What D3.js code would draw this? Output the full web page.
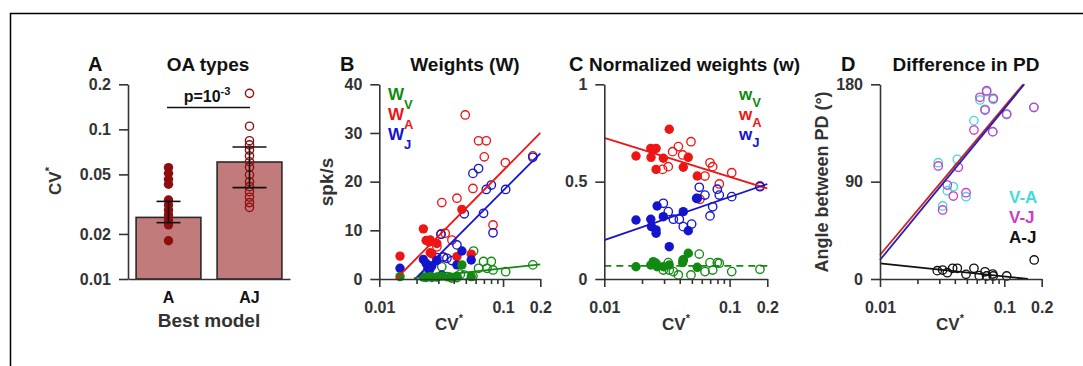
<!DOCTYPE html>
<html><head><meta charset="utf-8">
<script src="https://cdn.jsdelivr.net/npm/d3@7"></script>
<style>body{margin:0;background:#fff}svg{display:block}</style>
</head><body>
<script>
// ---------- DATA ----------
// Panel A
const aCats = ["A", "AJ"];
const aBarMean = [0.0258, 0.0605];
const aErrLow = [0.0238, 0.0408];
const aErrHigh = [0.0330, 0.0762];
const aDotsA = [0.0555, 0.0509, 0.0464, 0.0430, 0.0337, 0.0312, 0.0289, 0.0268, 0.0248, 0.0230, 0.0180];
const aDotsAJ = [0.174, 0.105, 0.084, 0.0787, 0.0728, 0.0664, 0.0608, 0.0558, 0.0496, 0.0447, 0.0414, 0.0383, 0.0352, 0.0324, 0.0301];
const aYTicks = [0.01, 0.02, 0.05, 0.1, 0.2];
const aYTickLabels = ["0.01", "0.02", "0.05", "0.1", "0.2"];

// shared log x ticks (B, C, D)
const xTicks = [0.01, 0.02, 0.03, 0.04, 0.05, 0.06, 0.07, 0.08, 0.09, 0.1, 0.2];
const xTickLabels = ["0.01", "", "", "", "", "", "", "", "", "0.1", "0.2"];

// Panel B  [CV*, spk/s]
const bRedFilled = [[0.0147,4.7],[0.0227,10.3],[0.0239,7.9],[0.0254,7.6],[0.0258,8.0],[0.0258,5.4],[0.0266,5.2],[0.0292,7.3],[0.0424,4.6],[0.0465,14.3],[0.0553,5.1]];
const bRedOpen = [[0.0292,6.6],[0.0315,9.2],[0.0320,15.7],[0.0330,4.5],[0.0341,9.4],[0.0386,8.0],[0.0424,16.6],[0.0495,33.7],[0.0571,18.6],[0.0634,28.4],[0.0705,25.1],[0.0732,28.4],[0.0830,11.1],[0.1044,23.9],[0.174,25.3]];
const bBlueFilled = [[0.0147,2.2],[0.0227,4.0],[0.0239,3.2],[0.0247,2.2],[0.0254,1.8],[0.0266,2.7],[0.0292,3.8],[0.0320,0.8],[0.0424,2.9],[0.0465,5.75],[0.0553,3.9]];
const bBlueOpen = [[0.0292,4.4],[0.0315,9.2],[0.0330,4.5],[0.0352,4.25],[0.0386,3.8],[0.0424,7.0],[0.0486,13.4],[0.0571,21.7],[0.0634,22.7],[0.0696,13.5],[0.0732,18.4],[0.0804,19.3],[0.0830,9.5],[0.105,18.4],[0.174,25.0]];
const bGreenFilled = [[0.0147,0.5],[0.0227,0.4],[0.0239,0.3],[0.0258,0.5],[0.0266,0.3],[0.0292,0.4],[0.0320,0.6],[0.0374,0.4],[0.0424,0.6],[0.0465,2.9],[0.0553,0.5]];
const bGreenOpen = [[0.0320,2.5],[0.0352,0.5],[0.0386,0.2],[0.0424,0.3],[0.0452,1.0],[0.0486,0.8],[0.0571,0.6],[0.0578,5.75],[0.0634,2.2],[0.0696,3.6],[0.0742,2.2],[0.0804,3.6],[0.0830,1.85],[0.105,1.5],[0.174,2.9]];
const bFitRed = [[0.01366,0],[0.2,30]];
const bFitBlue = [[0.0195,0],[0.2,25.8]];
const bFitGreen = [[0.019,0.2],[0.2,3.0]];
const bYTicks = [0, 10, 20, 30, 40];

// Panel C  [CV*, normalized weight]
const cRedFilled = [[0.0179,0.632],[0.0235,0.671],[0.0246,0.663],[0.0259,0.671],[0.0236,0.625],[0.0296,0.620],[0.0259,0.563],[0.0330,0.769],[0.0427,0.574],[0.0468,0.625],[0.0552,0.529]];
const cRedOpen = [[0.0292,0.563],[0.0324,0.577],[0.0351,0.654],[0.0390,0.680],[0.0422,0.637],[0.0492,0.705],[0.0698,0.597],[0.0733,0.577],[0.0636,0.529],[0.0828,0.488],[0.104,0.546],[0.058,0.409],[0.1748,0.478]];
const cBlueFilled = [[0.0179,0.303],[0.0235,0.307],[0.0238,0.269],[0.0259,0.252],[0.0259,0.235],[0.0264,0.375],[0.0296,0.320],[0.0330,0.166],[0.0427,0.346],[0.0468,0.248],[0.0552,0.414]];
const cBlueOpen = [[0.0296,0.389],[0.0324,0.346],[0.0356,0.307],[0.0397,0.307],[0.0427,0.269],[0.0498,0.282],[0.0546,0.414],[0.0573,0.471],[0.0636,0.431],[0.0698,0.324],[0.0733,0.371],[0.0798,0.461],[0.0828,0.431],[0.104,0.423],[0.1748,0.474]];
const cGreenFilled = [[0.0179,0.063],[0.0235,0.072],[0.0246,0.089],[0.0259,0.081],[0.0264,0.063],[0.0296,0.063],[0.0330,0.072],[0.0427,0.098],[0.0468,0.132],[0.0552,0.060],[0.0422,0.084]];
const cGreenOpen = [[0.0296,0.046],[0.0324,0.084],[0.0356,0.038],[0.0390,0.021],[0.0427,0.098],[0.0492,0.021],[0.0573,0.128],[0.0636,0.038],[0.0698,0.084],[0.0733,0.046],[0.0798,0.084],[0.0828,0.081],[0.104,0.038],[0.1748,0.050],[0.0330,0.046]];
const cFitRed = [[0.01,0.725],[0.2,0.465]];
const cFitBlue = [[0.01,0.200],[0.2,0.488]];
const cFitGreen = [[0.01,0.067],[0.2,0.067]];
const cYTicks = [0, 0.5, 1];

// Panel D  [CV*, angle deg]
const dVA = [[0.0294,107.5],[0.0419,110.7],[0.0389,85.3],[0.0348,81.6],[0.0319,67.5],[0.0492,76.1],[0.0570,146.4],[0.0637,165.5],[0.0700,156.9],[0.0721,173.2],[0.0815,166.0],[0.1045,152.0],[0.0807,136.0],[0.173,158.5]];
const dVJ = [[0.0294,104.5],[0.0427,103.3],[0.0348,86.9],[0.0389,76.7],[0.0319,63.8],[0.0492,79.8],[0.0570,137.7],[0.0637,168.0],[0.0721,174.1],[0.0700,156.2],[0.0815,167.1],[0.1045,152.5],[0.0807,136.2],[0.173,158.7]];
const dAJ = [[0.0289,7.7],[0.0319,8.3],[0.0348,5.8],[0.0384,9.9],[0.0419,9.9],[0.0492,4.3],[0.0570,9.9],[0.0629,3.1],[0.0700,6.7],[0.0721,2.8],[0.0807,4.6],[0.0815,2.8],[0.1045,2.8],[0.174,17.6]];
const dFitRed = [[0.01,22.2],[0.142,180]];
const dFitBlue = [[0.01,17.6],[0.145,180]];
const dFitBlack = [[0.01,14.5],[0.155,0]];
const dYTicks = [0, 90, 180];

// ---------- DRAWING ----------
const FONT = "'Liberation Sans', Arial, Helvetica, sans-serif";
const AX = "#333";
const GREEN = "#128a12", RED = "#ee1515", BLUE = "#1414cc";
const CYAN = "#3fdcdc", MAG = "#cc3ccc", DARKRED = "#8e0d0d";

const svg = d3.select("body").append("svg").attr("width", 1083).attr("height", 366)
  .style("font-family", FONT).style("font-weight", "bold");

svg.append("path").attr("d", "M10.5,366V13.5H1083").attr("fill", "none")
  .attr("stroke", "#000").attr("stroke-width", 1.5);

function styleAxis(g) {
  g.select(".domain").attr("stroke", AX).attr("stroke-width", 1.6);
  g.selectAll(".tick line").attr("stroke", AX).attr("stroke-width", 1.6);
  g.selectAll(".tick text").attr("fill", AX).style("font-size", "16px")
    .style("font-family", FONT).style("font-weight", "bold");
}

function text(x, y, str, size, color, anchor) {
  return svg.append("text").attr("x", x).attr("y", y).text(str)
    .style("font-size", size + "px").attr("fill", color || "#111")
    .attr("text-anchor", anchor || "start");
}

function cvLabel(cx, y) {
  const t = svg.append("text").attr("x", cx).attr("y", y).attr("text-anchor", "middle")
    .style("font-size", "17px").attr("fill", AX);
  t.append("tspan").text("CV");
  t.append("tspan").attr("dy", -8).style("font-size", "11px").text("*");
}

function logXAxis(x, y0) {
  const g = svg.append("g").attr("transform", `translate(0,${y0})`)
    .call(d3.axisBottom(x).tickValues(xTicks).tickSize(8).tickSizeOuter(0)
      .tickFormat((d, i) => xTickLabels[i]));
  g.selectAll(".tick").each(function (d, i) {
    if (xTickLabels[i] === "") d3.select(this).select("line").attr("y2", 5);
  });
  styleAxis(g);
  g.selectAll(".tick text").attr("y", 34).attr("dy", 0);
  return g;
}

function yAxis(y, x0, ticks, fmt) {
  const g = svg.append("g").attr("transform", `translate(${x0},0)`)
    .call(d3.axisLeft(y).tickValues(ticks).tickSize(9).tickPadding(8).tickSizeOuter(0).tickFormat(fmt));
  styleAxis(g);
  return g;
}

function dots(x, y, data, color, filled) {
  svg.append("g").selectAll("circle").data(data).join("circle")
    .attr("cx", d => x(d[0])).attr("cy", d => y(d[1]))
    .attr("r", filled ? 4.7 : 4.2)
    .attr("fill", filled ? color : "none")
    .attr("stroke", color).attr("stroke-width", filled ? 0 : 1.35);
}

function fit(x, y, data, color, dash) {
  const p = svg.append("path").datum(data)
    .attr("d", d3.line().x(d => x(d[0])).y(d => y(d[1])))
    .attr("fill", "none").attr("stroke", color).attr("stroke-width", 1.8);
  if (dash) p.attr("stroke-dasharray", dash);
}

// ===== Panel A =====
{
  const x = d3.scaleBand().domain(aCats).range([128, 290]).paddingInner(0.2).paddingOuter(0.1);
  const y = d3.scaleLog().domain([0.01, 0.2]).range([279, 84.3]);
  const bw = x.bandwidth();
  svg.append("g").selectAll("rect").data(aCats).join("rect")
    .attr("x", d => x(d)).attr("width", bw)
    .attr("y", (d, i) => y(aBarMean[i])).attr("height", (d, i) => 279 - y(aBarMean[i]))
    .attr("fill", "#c27b7b").attr("stroke", "#2a2a2a").attr("stroke-width", 1.6);

  svg.append("g").selectAll("circle").data(aDotsA).join("circle")
    .attr("cx", x("A") + bw / 2).attr("cy", d => y(d)).attr("r", 4.7)
    .attr("fill", DARKRED);
  svg.append("g").selectAll("circle").data(aDotsAJ).join("circle")
    .attr("cx", x("AJ") + bw / 2).attr("cy", d => y(d)).attr("r", 4.1)
    .attr("fill", "none").attr("stroke", DARKRED).attr("stroke-width", 1.4);

  const caps = [12, 17];
  aCats.forEach((c, i) => {
    const cx = x(c) + bw / 2;
    const g = svg.append("g").attr("stroke", "#111").attr("stroke-width", 1.6);
    g.append("line").attr("x1", cx).attr("x2", cx).attr("y1", y(aErrHigh[i])).attr("y2", y(aErrLow[i]));
    g.append("line").attr("x1", cx - caps[i]).attr("x2", cx + caps[i]).attr("y1", y(aErrHigh[i])).attr("y2", y(aErrHigh[i]));
    g.append("line").attr("x1", cx - caps[i]).attr("x2", cx + caps[i]).attr("y1", y(aErrLow[i])).attr("y2", y(aErrLow[i]));
  });

  yAxis(y, 128, aYTicks, (d, i) => aYTickLabels[i]);
  const gx = svg.append("g").attr("transform", "translate(0,279)")
    .call(d3.axisBottom(x).tickSize(0).tickSizeOuter(0));
  styleAxis(gx);
  gx.selectAll(".tick text").attr("y", 24).attr("dy", 0).attr("fill", "#111");

  // significance
  svg.append("line").attr("x1", 167).attr("x2", 250).attr("y1", 107.5).attr("y2", 107.5)
    .attr("stroke", "#111").attr("stroke-width", 1.6);
  const p = svg.append("text").attr("x", 207).attr("y", 102).attr("text-anchor", "middle")
    .style("font-size", "16px").attr("fill", "#111");
  p.append("tspan").text("p=10");
  p.append("tspan").attr("dy", -7).style("font-size", "11px").text("-3");

  text(88, 71, "A", 20, "#111");
  text(208, 71, "OA types", 19, "#111", "middle");
  text(209, 327, "Best model", 19, AX, "middle");
  const yl = svg.append("text").attr("transform", "translate(61,181) rotate(-90)")
    .attr("text-anchor", "middle").style("font-size", "17px").attr("fill", AX);
  yl.append("tspan").text("CV");
  yl.append("tspan").attr("dy", -8).style("font-size", "11px").text("*");
}

// ===== Panel B =====
{
  const x = d3.scaleLog().domain([0.01, 0.2]).range([379.3, 540.3]);
  const y = d3.scaleLinear().domain([0, 40]).range([279, 84.3]);
  dots(x, y, bRedOpen, RED, false);
  dots(x, y, bBlueOpen, BLUE, false);
  dots(x, y, bGreenOpen, GREEN, false);
  dots(x, y, bRedFilled, RED, true);
  dots(x, y, bBlueFilled, BLUE, true);
  dots(x, y, bGreenFilled, GREEN, true);
  fit(x, y, bFitRed, RED);
  fit(x, y, bFitBlue, BLUE);
  fit(x, y, bFitGreen, GREEN);
  logXAxis(x, 279);
  yAxis(y, 379.3, bYTicks, d => d);
  text(340, 71, "B", 20, "#111");
  text(465, 71, "Weights (W)", 19, "#111", "middle");
  cvLabel(449, 330);
  svg.append("text").attr("transform", "translate(333,182) rotate(-90)").attr("text-anchor", "middle")
    .style("font-size", "19px").attr("fill", AX).text("spk/s");
  [["V", GREEN, 99.5], ["A", RED, 120], ["J", BLUE, 140]].forEach(([s, c, yb]) => {
    const t = svg.append("text").attr("x", 388).attr("y", yb).attr("fill", c).style("font-size", "17px");
    t.append("tspan").text("W");
    t.append("tspan").attr("dy", 9).style("font-size", "13px").text(s);
  });
}

// ===== Panel C =====
{
  const x = d3.scaleLog().domain([0.01, 0.2]).range([604.3, 767.3]);
  const y = d3.scaleLinear().domain([0, 1]).range([279, 84.3]);
  dots(x, y, cRedOpen, RED, false);
  dots(x, y, cBlueOpen, BLUE, false);
  dots(x, y, cGreenOpen, GREEN, false);
  dots(x, y, cRedFilled, RED, true);
  dots(x, y, cBlueFilled, BLUE, true);
  dots(x, y, cGreenFilled, GREEN, true);
  fit(x, y, cFitRed, RED);
  fit(x, y, cFitBlue, BLUE);
  fit(x, y, cFitGreen, GREEN, "7,5");
  logXAxis(x, 279);
  yAxis(y, 604.3, cYTicks, d => d);
  text(569, 71, "C", 20, "#111");
  text(589, 71, "Normalized weights (w)", 19, "#111");
  cvLabel(676, 330);
  [["V", GREEN, 100], ["A", RED, 120], ["J", BLUE, 140]].forEach(([s, c, yb]) => {
    const t = svg.append("text").attr("x", 739).attr("y", yb).attr("fill", c).style("font-size", "17px");
    t.append("tspan").text("w");
    t.append("tspan").attr("dy", 7).style("font-size", "13px").text(s);
  });
}

// ===== Panel D =====
{
  const x = d3.scaleLog().domain([0.01, 0.2]).range([880, 1041.7]);
  const y = d3.scaleLinear().domain([0, 180]).range([279, 84.3]);
  dots(x, y, dVA, CYAN, false);
  dots(x, y, dVJ, MAG, false);
  dots(x, y, dAJ, "#111", false);
  fit(x, y, dFitRed, "#cc2222");
  fit(x, y, dFitBlue, "#2222bb");
  fit(x, y, dFitBlack, "#111");
  logXAxis(x, 279);
  yAxis(y, 880, dYTicks, d => d);
  text(841, 71, "D", 20, "#111");
  text(966, 71, "Difference in PD", 19, "#111", "middle");
  cvLabel(950, 330);
  svg.append("text").attr("transform", "translate(828,182) rotate(-90)").attr("text-anchor", "middle")
    .style("font-size", "18px").attr("fill", AX).text("Angle between PD (°)");
  text(1009, 203, "V-A", 17, CYAN);
  text(1009, 222.5, "V-J", 17, MAG);
  text(1009, 243, "A-J", 17, "#111");
}
</script>
</body></html>
